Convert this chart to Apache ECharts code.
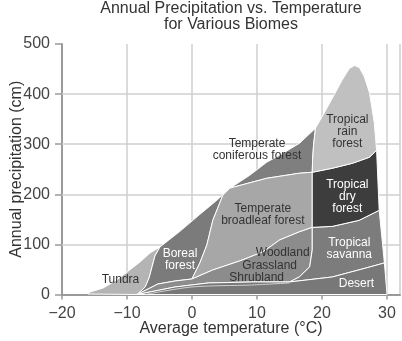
<!DOCTYPE html>
<html><head><meta charset="utf-8">
<script src="https://cdn.jsdelivr.net/npm/echarts@6/dist/echarts.min.js"></script>
<style>html,body{margin:0;padding:0;background:#fff}#c{width:402px;height:341px}</style>
</head><body><div id="c"></div>
<script>
// ---- data: biome outlines as [temperature °C, precipitation cm] ----
const xTicks = [-20, -10, 0, 10, 20, 30];
const yTicks = [0, 100, 200, 300, 400, 500];
const gridYValues = [100, 200, 300, 400];

const tundra = [[-16,1],[-15.66,5],[-13.67,13],[-11.83,27],[-9.98,45],[-7.99,65],[-6.46,83],[-4.92,95],
  [-5.7,77],[-6.15,55],[-6.6,33],[-7.2,15],[-8.45,0]];
const boreal = [[-8.45,0],[-7.2,15],[-6.6,33],[-6.15,55],[-5.7,77],[-4.92,95],[-1.86,126],[1.21,160],[3.82,188],[5.81,212],
  [4.74,198],[3.2,148],[2.29,99],[1.21,63],[0.44,43],[0,31],[-2.6,27],[-5.23,21],[-8.45,0]];
const coniferous = [[5.81,212],[8.88,238],[11.49,264],[13.48,278],[16.55,302],[19.0,332],
  [18.7,298],[18.55,268],[18.5,244],[16.5,242],[11.5,232],[6.3,214]];
const broadleaf = [[5.81,212],[6.3,214],[11.5,232],[16.5,242],[18.5,244],[18.5,134],
  [16.5,125],[13.5,109],[10.9,85],[7.35,67],[3.2,49],[0,31],[0.44,43],[1.21,63],[2.29,99],[3.2,148],[4.74,198]];
const woodland = [[-8.45,0],[-5.23,21],[-2.6,27],[0,31],[3.2,49],[7.35,67],[10.9,85],[13.5,109],[16.5,125],[18.5,134],
  [18.5,89],[18.1,55],[16.5,35],[15.0,25],[9.2,25],[2.5,23],[-2.6,15]];
const savanna = [[18.5,134],[21.6,136],[25.7,148],[28.8,168],[29.6,63],[26.8,53],[21.6,35],[15.0,25],
  [16.5,35],[18.1,55],[18.5,89]];
const dryForest = [[18.5,244],[21.6,252],[24.7,262],[27.3,274],[28.4,288],[28.8,168],[25.7,148],[21.6,136],[18.5,134]];
const rainForest = [[18.5,244],[18.55,268],[18.7,298],[19.0,332],[20.4,364],[21.6,392],[23.1,428],[24.2,451],[25.0,457],
  [25.75,453],[26.5,435],[27.3,403],[27.75,367],[28.05,342],[28.4,288],[27.3,274],[24.7,262],[21.6,252]];
const desert = [[-8.45,0],[-2.6,15],[2.5,23],[9.2,25],[15.0,25],[21.6,35],[26.8,53],[29.6,63],[30,0]];
const desertInnerLine = [[-7.2,0],[0,15],[9.2,19],[15.0,23]];

const biomeNames = ['Tundra','Boreal forest','Temperate coniferous forest','Temperate broadleaf forest',
  'Woodland Grassland Shrubland','Tropical savanna','Tropical dry forest','Tropical rain forest','Desert'];
const biomeShapes = [tundra, boreal, coniferous, broadleaf, woodland, savanna, dryForest, rainForest, desert];

const labelTexts = ['Tundra','Boreal\nforest','Temperate\nconiferous forest','Temperate\nbroadleaf forest',
  'Woodland','Grassland','Shrubland','Tropical\nrain\nforest','Tropical\ndry\nforest','Tropical\nsavanna','Desert'];
const labelAnchors = [[-11.0,29],[-1.84,70],[10.0,290],[10.9,160],[13.95,83],[11.95,57],[9.95,33],[23.9,325],[23.9,196],[24.2,92],[25.3,21]];

// ---- styles ----
const biomeColors = ['#b4b4b4','#7b7b7b','#7f7f7f','#a7a7a7','#8c8c8c','#7c7c7c','#3d3d3d','#c0c0c0','#787878'];
const labelColors = ['#333','#fff','#333','#333','#333','#333','#333','#333','#fff','#fff','#fff'];
const FONT = '"Liberation Sans", Arial, Helvetica, sans-serif';
const gridColor = '#cfcfcf';
const axisColor = '#9a9a9a';

const chart = echarts.init(document.getElementById('c'), null, {renderer:'canvas'});
const minus = v => String(v).replace('-', '\u2212');

chart.setOption({
  animation: false,
  backgroundColor: '#fff',
  title: {
    text: 'Annual Precipitation vs. Temperature\nfor Various Biomes',
    left: 231, top: 1, padding: 0, textAlign: 'center',
    textStyle: {fontFamily: FONT, fontSize: 16, fontWeight: 'normal', color: '#333', lineHeight: 16}
  },
  grid: {left: 62, right: 2, top: 44, bottom: 46.5, containLabel: false, outerBoundsMode: 'none'},
  xAxis: {
    type: 'value', min: xTicks[0], max: 32, interval: 10,
    name: 'Average temperature (\u00b0C)', nameLocation: 'middle', nameGap: 26, nameMoveOverlap: false,
    nameTextStyle: {fontFamily: FONT, fontSize: 16, color: '#333'},
    axisLine: {show: true, onZero: false, lineStyle: {color: axisColor, width: 2}},
    axisTick: {show: true, length: 5, lineStyle: {color: axisColor, width: 1.5}},
    axisLabel: {showMaxLabel: false, margin: 11, fontFamily: FONT, fontSize: 16, color: '#444', formatter: minus},
    splitLine: {show: true, lineStyle: {color: gridColor, width: 1.5}}
  },
  yAxis: [{
    type: 'value', min: yTicks[0], max: yTicks[yTicks.length-1], interval: 100,
    name: 'Annual precipitation (cm)', nameLocation: 'middle', nameGap: 37, nameMoveOverlap: false,
    nameTextStyle: {fontFamily: FONT, fontSize: 16, color: '#333'},
    axisLine: {show: true, onZero: false, lineStyle: {color: axisColor, width: 2}},
    axisTick: {show: true, length: 7, lineStyle: {color: axisColor, width: 1.5}},
    axisLabel: {margin: 12, fontFamily: FONT, fontSize: 16, color: '#444'},
    splitLine: {show: false}
  }],
  series: [
    {
      type: 'line', data: [], z: 0, silent: true,
      markLine: {
        silent: true, symbol: 'none', animation: false, label: {show: false}, z: 1,
        lineStyle: {color: gridColor, width: 1.5, type: 'solid'},
        data: gridYValues.map(v => ({yAxis: v}))
      }
    },
    {
      type: 'custom', z: 10, silent: true,
      data: biomeShapes.map((s, i) => [i, 0]),
      renderItem: (params, api) => {
        const pts = biomeShapes[params.dataIndex].map(p => api.coord(p));
        return {type: 'polygon', shape: {points: pts},
          style: {fill: biomeColors[params.dataIndex], stroke: '#fff', lineWidth: 1, lineJoin: 'round'}};
      }
    },
    {
      type: 'line', z: 11, silent: true, symbol: 'none', smooth: 0.3,
      data: desertInnerLine, lineStyle: {color: '#e6e6e6', width: 0.8}
    },
    {
      type: 'custom', z: 12, silent: true,
      data: labelAnchors.map((a, i) => [i, 0]),
      renderItem: (params, api) => {
        const i = params.dataIndex;
        const c = api.coord(labelAnchors[i]);
        return {type: 'text', x: c[0], y: c[1],
          style: {text: labelTexts[i], fill: labelColors[i], align: 'center', verticalAlign: 'middle',
            fontFamily: FONT, fontSize: 12, lineHeight: 12}};
      }
    }
  ]
});
</script></body></html>
